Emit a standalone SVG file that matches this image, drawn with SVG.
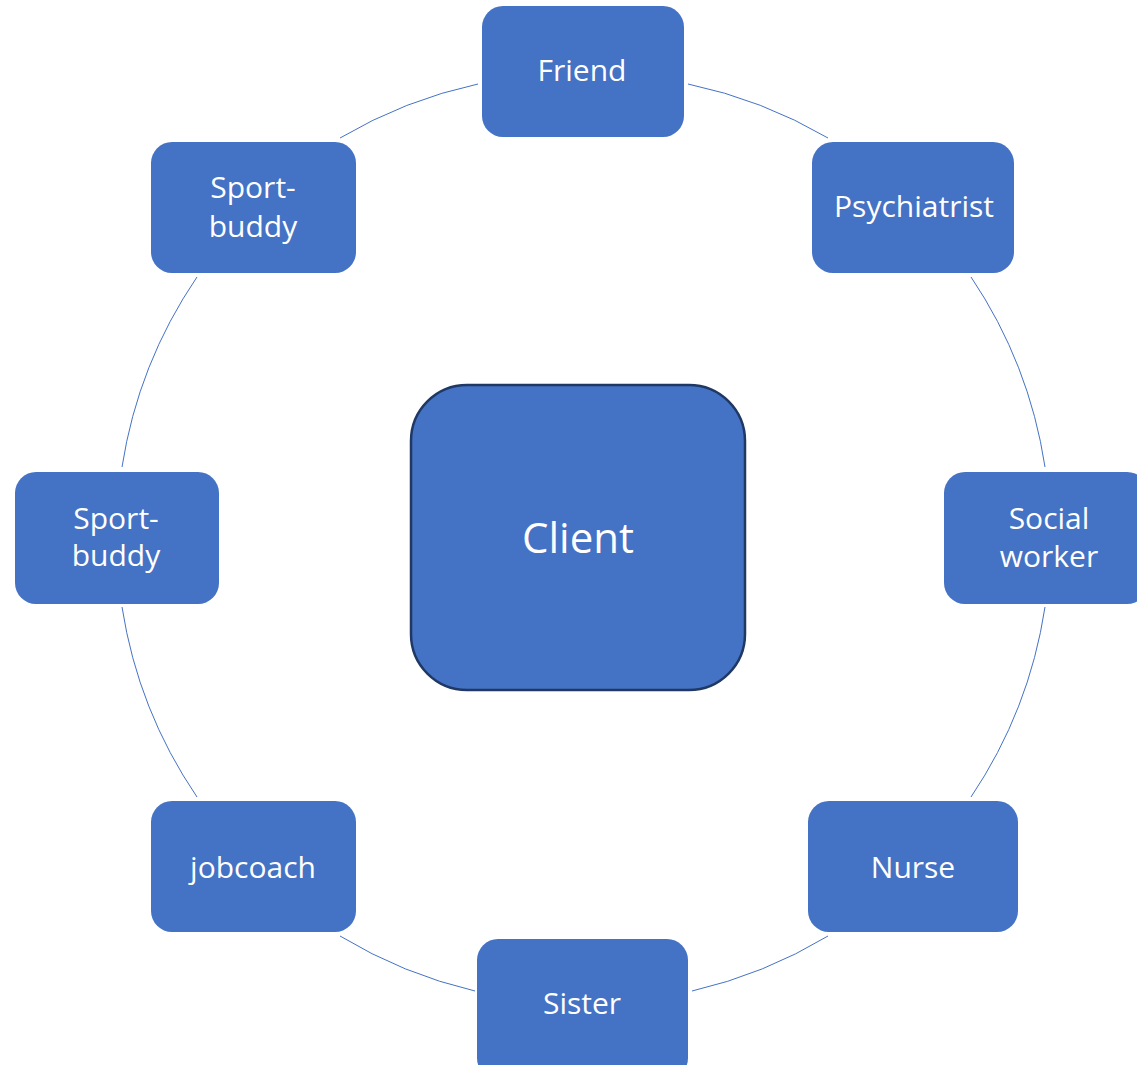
<svg xmlns="http://www.w3.org/2000/svg" width="1137" height="1065" viewBox="0 0 1137 1065">
<style>
.n{fill:#4472C4;}
.c{fill:#4472C4;stroke:#1F3864;stroke-width:2.5;}
.t{fill:#ffffff;font-family:"Open Sans","Liberation Sans",sans-serif;font-size:30px;text-anchor:middle;}
.tc{fill:#ffffff;font-family:"Open Sans","Liberation Sans",sans-serif;font-size:42px;text-anchor:middle;}
.e{fill:none;stroke:#4472C4;stroke-width:1;}
</style>
<rect width="1137" height="1065" fill="#ffffff"/>
<g id="connectors">
<path class="e" d="M688,84 A466,466 0 0 1 828,138"/>
<path class="e" d="M971,277 A466,466 0 0 1 1045,467"/>
<path class="e" d="M1045,607 A466,466 0 0 1 971,797"/>
<path class="e" d="M828,936 A466,466 0 0 1 692,991"/>
<path class="e" d="M475,991 A466,466 0 0 1 340,936"/>
<path class="e" d="M197,797 A466,466 0 0 1 122,607"/>
<path class="e" d="M122,467 A466,466 0 0 1 197,277"/>
<path class="e" d="M340,138 A466,466 0 0 1 478,84"/>
</g>
<g id="client">
<rect class="c" x="411" y="385" width="334" height="305" rx="56"/>
<text class="tc" x="578" y="553">Client</text>
</g>
<g id="friend">
<rect class="n" x="482" y="6" width="202" height="131" rx="21"/>
<text class="t" x="582" y="81">Friend</text>
</g>
<g id="psychiatrist">
<rect class="n" x="812" y="142" width="202" height="131" rx="21"/>
<text class="t" x="914" y="217">Psychiatrist</text>
</g>
<g id="socialworker">
<rect class="n" x="944" y="472" width="204" height="132" rx="21"/>
<text class="t" x="1049" y="529">Social</text>
<text class="t" x="1049" y="567">worker</text>
</g>
<g id="nurse">
<rect class="n" x="808" y="801" width="210" height="131" rx="21"/>
<text class="t" x="913" y="878">Nurse</text>
</g>
<g id="sister">
<rect class="n" x="477" y="939" width="211" height="140" rx="21"/>
<text class="t" x="582" y="1014">Sister</text>
</g>
<g id="jobcoach">
<rect class="n" x="151" y="801" width="205" height="131" rx="21"/>
<text class="t" x="253" y="878">jobcoach</text>
</g>
<g id="sportbuddy-left">
<rect class="n" x="15" y="472" width="204" height="132" rx="21"/>
<text class="t" x="116" y="529">Sport-</text>
<text class="t" x="116" y="566">buddy</text>
</g>
<g id="sportbuddy-top">
<rect class="n" x="151" y="142" width="205" height="131" rx="21"/>
<text class="t" x="253" y="198">Sport-</text>
<text class="t" x="253" y="237">buddy</text>
</g>
</svg>
